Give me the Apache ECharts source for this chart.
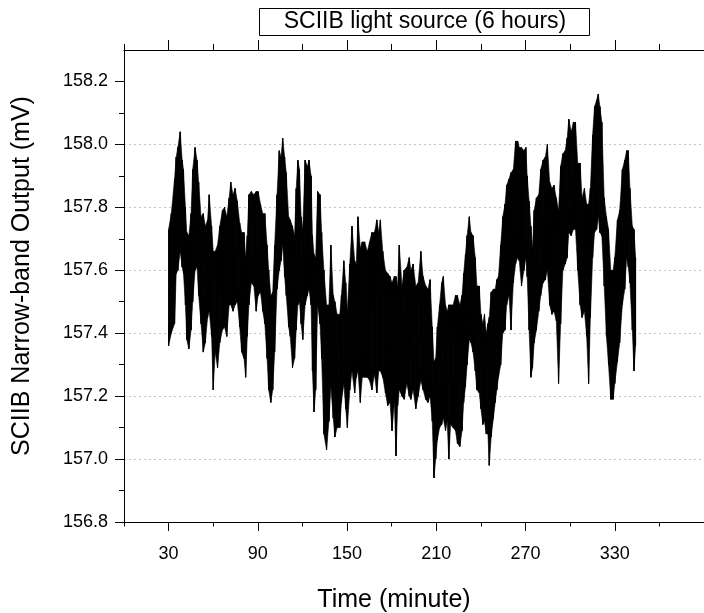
<!DOCTYPE html>
<html>
<head>
<meta charset="utf-8">
<script src="https://cdn.jsdelivr.net/npm/echarts@6/dist/echarts.min.js"></script>
<style>
  html, body { margin: 0; padding: 0; background: #fff; }
  #chart { width: 704px; height: 613px; }
</style>
</head>
<body>
<div id="chart"></div>
<script>
// time (minute) of each reading, with the top and bottom of the trace there (mV)
var minutes = [
  30.0, 31.8, 34.0, 35.1, 36.2, 37.8, 39.1, 40.0, 41.3, 42.2,
  43.6, 45.1, 46.2, 47.8, 49.1, 50.2, 51.8, 53.3, 54.7, 56.2,
  57.3, 58.9, 60.0, 61.3, 62.9, 64.4, 66.2, 67.6, 69.1, 70.7,
  71.8, 73.3, 74.7, 76.2, 77.8, 79.1, 80.7, 81.8, 82.9, 84.0,
  85.6, 87.3, 88.9, 90.2, 91.8, 93.3, 94.7, 96.2, 97.3, 98.7,
  100.0, 101.3, 102.9, 104.4, 105.6, 106.7, 108.0, 109.1, 110.7, 111.8,
  113.3, 114.7, 115.8, 116.9, 118.0, 119.1, 120.2, 121.8, 123.3, 124.4,
  125.8, 126.7, 127.8, 128.9, 130.2, 131.8, 132.9, 134.4, 136.2, 137.8,
  139.1, 140.7, 141.8, 143.3, 145.1, 146.2, 147.8, 149.1, 150.2, 151.8,
  153.3, 155.1, 156.2, 157.3, 158.9, 160.2, 161.8, 163.6, 165.1, 166.7,
  168.4, 170.0, 171.3, 172.4, 174.0, 175.8, 177.3, 178.9, 180.2, 181.8,
  182.9, 184.0, 185.1, 186.9,
  188.4, 190.2, 191.8, 192.9, 194.4, 196.2, 197.8, 199.6, 201.1, 202.9,
  204.4, 205.8, 207.3, 208.4, 209.6, 210.7, 212.2, 213.6, 214.7, 216.2,
  217.3, 218.4, 219.6, 221.3, 222.9, 224.2, 225.8, 227.3, 228.4, 229.6,
  230.7, 232.2, 233.3, 234.7, 236.2, 237.3, 238.9, 240.0, 241.3, 242.4,
  243.6, 244.7, 245.6, 246.9, 248.4, 249.6, 250.7, 251.8, 253.3, 254.7,
  256.2, 257.3, 258.9, 260.2, 261.8, 263.3, 264.7, 265.8, 267.3, 268.9,
  270.2, 271.1, 272.4, 273.6, 274.7, 275.8, 277.3, 278.9, 280.2, 281.8,
  283.3, 284.7, 286.2, 287.8, 289.1, 290.7, 292.2, 293.6, 295.1, 296.7,
  298.0, 299.1, 300.7, 302.2, 303.6, 305.1, 306.7, 308.0, 309.6, 311.1,
  312.4, 313.6, 315.1, 316.4, 317.8, 318.9, 320.0, 321.3, 322.9, 324.4,
  325.8, 327.3, 328.9, 330.0, 331.8, 333.3, 335.1, 336.7, 338.0, 339.1,
  340.2, 341.8, 342.9, 344.0
];
var upper = [
  157.73, 157.78, 157.89, 157.96, 157.99, 158.04, 157.95, 157.92, 157.80, 157.72,
  157.71, 157.78, 157.92, 157.99, 157.95, 157.88, 157.77, 157.78, 157.74, 157.76,
  157.84, 157.74, 157.66, 157.66, 157.68, 157.74, 157.79, 157.80, 157.77, 157.83,
  157.88, 157.84, 157.86, 157.82, 157.75, 157.72, 157.72, 157.64, 157.71, 157.84,
  157.85, 157.84, 157.85, 157.85, 157.81, 157.78, 157.78, 157.68, 157.60, 157.52,
  157.53, 157.68, 157.84, 157.98, 157.96, 158.02, 157.96, 157.91, 157.77, 157.76,
  157.74, 157.71, 157.86, 157.95, 157.92, 157.77, 157.73, 157.95, 157.93, 157.95,
  157.90, 157.71, 157.65, 157.64, 157.85, 157.84, 157.72, 157.60, 157.49, 157.49,
  157.68, 157.52, 157.50, 157.46, 157.46, 157.52, 157.63, 157.56, 157.47, 157.62,
  157.74, 157.63, 157.62, 157.77, 157.67, 157.69, 157.69, 157.66, 157.69, 157.72,
  157.72, 157.76, 157.72, 157.76, 157.66, 157.60, 157.59, 157.58, 157.56, 157.58,
  157.58, 157.55, 157.68, 157.55,
  157.60, 157.61, 157.64, 157.60, 157.62, 157.55, 157.56, 157.66, 157.58, 157.55,
  157.54, 157.57, 157.42, 157.31, 157.32, 157.42, 157.49, 157.56, 157.58, 157.49,
  157.47, 157.49, 157.49, 157.49, 157.52, 157.52, 157.49, 157.52, 157.59, 157.65,
  157.71, 157.77, 157.72, 157.71, 157.64, 157.55, 157.55, 157.46, 157.43, 157.46,
  157.40, 157.43, 157.45, 157.53, 157.54, 157.54, 157.57, 157.58, 157.68, 157.77,
  157.81, 157.87, 157.89, 157.91, 157.92, 158.01, 158.01, 157.99, 157.99, 157.98,
  157.99, 157.90, 157.82, 157.74, 157.67, 157.79, 157.83, 157.84, 157.92, 157.95,
  157.96, 158.00, 157.88, 157.86, 157.87, 157.83, 157.79, 157.93, 157.97, 157.98,
  158.02, 158.08, 158.04, 158.07, 158.07, 157.94, 157.94, 157.83, 157.86, 157.81,
  157.81, 157.86, 158.03, 158.12, 158.14, 158.16, 158.12, 158.07, 157.83, 157.77,
  157.73, 157.60, 157.60, 157.64, 157.76, 157.79, 157.92, 157.95, 157.98, 157.98,
  157.86, 157.74, 157.73, 157.64
];
var lower = [
  157.36, 157.40, 157.43, 157.59, 157.60, 157.66, 157.61, 157.59, 157.49, 157.38,
  157.35, 157.41, 157.50, 157.60, 157.61, 157.52, 157.43, 157.34, 157.37, 157.45,
  157.47, 157.39, 157.22, 157.34, 157.29, 157.37, 157.41, 157.42, 157.39, 157.49,
  157.49, 157.47, 157.49, 157.50, 157.42, 157.34, 157.32, 157.26, 157.39, 157.49,
  157.56, 157.55, 157.47, 157.52, 157.53, 157.47, 157.43, 157.32, 157.22, 157.18,
  157.22, 157.34, 157.54, 157.60, 157.63, 157.68, 157.58, 157.52, 157.42, 157.39,
  157.29, 157.32, 157.41, 157.49, 157.50, 157.43, 157.38, 157.49, 157.52, 157.54,
  157.49, 157.28, 157.15, 157.22, 157.49, 157.43, 157.32, 157.08, 157.03, 157.12,
  157.23, 157.13, 157.07, 157.10, 157.10, 157.18, 157.24, 157.16, 157.10, 157.22,
  157.28, 157.21, 157.26, 157.28, 157.18, 157.26, 157.26, 157.26, 157.25, 157.22,
  157.27, 157.21, 157.28, 157.28, 157.26, 157.21, 157.17, 157.18, 157.09, 157.18,
  157.01, 157.17, 157.22, 157.20,
  157.19, 157.24, 157.20, 157.19, 157.22, 157.16, 157.20, 157.25, 157.22, 157.19,
  157.18, 157.20, 157.12, 156.94, 157.00, 157.06, 157.10, 157.11, 157.13, 157.09,
  157.12, 157.00, 157.11, 157.10, 157.09, 157.05, 157.04, 157.09, 157.18, 157.23,
  157.30, 157.38, 157.37, 157.34, 157.28, 157.22, 157.21, 157.16, 157.11, 157.12,
  157.08, 157.08, 156.98, 157.07, 157.13, 157.18, 157.22, 157.26, 157.30, 157.40,
  157.41, 157.49, 157.52, 157.41, 157.56, 157.62, 157.64, 157.63, 157.55, 157.60,
  157.64, 157.58, 157.41, 157.26, 157.29, 157.37, 157.41, 157.47, 157.52, 157.56,
  157.57, 157.60, 157.49, 157.46, 157.47, 157.44, 157.24, 157.43, 157.60, 157.62,
  157.64, 157.72, 157.71, 157.73, 157.73, 157.60, 157.49, 157.45, 157.47, 157.39,
  157.24, 157.45, 157.64, 157.72, 157.73, 157.77, 157.72, 157.71, 157.55, 157.39,
  157.30, 157.19, 157.19, 157.24, 157.31, 157.37, 157.49, 157.54, 157.64, 157.61,
  157.56, 157.41, 157.28, 157.36
];

var xMajor = [30, 90, 150, 210, 270, 330];
var xMinor = [0, 60, 120, 180, 240, 300, 360];
var yMajor = [156.8, 157.0, 157.2, 157.4, 157.6, 157.8, 158.0, 158.2];
var yMinor = [156.9, 157.1, 157.3, 157.5, 157.7, 157.9, 158.1];

(function () {
  var myChart = echarts.init(document.getElementById("chart"));
  var font = "'Liberation Sans', Arial, sans-serif";

  // the signal swings fast: a stroke from top to bottom at every reading,
  // over a filled band between the two envelopes
  var trace = [];
  var band = [];
  for (var i = 0; i < minutes.length; i++) {
    trace.push([minutes[i], upper[i]]);
    trace.push([minutes[i], lower[i]]);
    band.push([minutes[i], upper[i], lower[i]]);
  }

  var black = { color: "#000", width: 1 };
  var plot = { left: 124, top: 50, right: -5, bottom: 91 };

  function xAxis(grid, pos, ticks, len, labels) {
    return {
      type: "value",
      gridIndex: grid,
      position: pos,
      min: 0,
      max: 390,
      interval: 30,
      axisLine: { show: grid === 0, lineStyle: black },
      axisTick: { customValues: ticks, length: len, lineStyle: black },
      axisLabel: {
        show: labels,
        customValues: xMajor,
        margin: 23,
        fontSize: 18,
        color: "#000",
        fontFamily: font,
      },
      splitLine: { show: false },
    };
  }

  myChart.setOption({
    animation: false,
    grid: [plot, plot],
    xAxis: [
      xAxis(0, "bottom", xMajor, 9, true),
      xAxis(0, "top", xMajor, 10, false),
      xAxis(1, "bottom", xMinor, 4.5, false),
      xAxis(1, "top", xMinor, 6, false),
    ],
    yAxis: [
      {
        type: "value",
        gridIndex: 0,
        min: 156.8,
        max: 158.3,
        interval: 0.2,
        axisLine: { show: true, lineStyle: black },
        axisTick: { customValues: yMajor, length: 9, lineStyle: black },
        axisLabel: {
          customValues: yMajor,
          formatter: function (v) {
            return v.toFixed(1);
          },
          margin: 16,
          fontSize: 18,
          color: "#000",
          fontFamily: font,
        },
        splitLine: {
          show: true,
          showMinLine: false,
          showMaxLine: false,
          lineStyle: { color: "#c4c4c4", width: 1, type: [2, 3] },
        },
      },
      {
        type: "value",
        gridIndex: 1,
        min: 156.8,
        max: 158.3,
        interval: 0.2,
        axisLine: { show: false },
        axisTick: { customValues: yMinor, length: 5, lineStyle: black },
        axisLabel: { show: false },
        splitLine: { show: false },
      },
    ],
    series: [
      {
        type: "custom",
        data: band,
        encode: { x: 0, y: [1, 2] },
        silent: true,
        z: 2,
        renderItem: function (params, api) {
          var k = params.dataIndex;
          if (k >= band.length - 1) return;
          var a = band[k];
          var b = band[k + 1];
          return {
            type: "polygon",
            shape: {
              points: [
                api.coord([a[0], a[1]]),
                api.coord([b[0], b[1]]),
                api.coord([b[0], b[2]]),
                api.coord([a[0], a[2]]),
              ],
            },
            style: { fill: "#000", stroke: "#000", lineWidth: 0.6 },
          };
        },
      },
      {
        type: "line",
        data: trace,
        symbol: "none",
        silent: true,
        lineStyle: { color: "#000", width: 1 },
        z: 3,
      },
    ],
    graphic: [
      {
        type: "rect",
        shape: { x: 259.5, y: 8.5, width: 330, height: 27 },
        style: { fill: "#fff", stroke: "#000", lineWidth: 1 },
      },
      {
        type: "text",
        x: 425,
        y: 22,
        style: {
          text: "SCIIB light source (6 hours)",
          fontSize: 23,
          fontFamily: font,
          fill: "#000",
          align: "center",
          verticalAlign: "middle",
        },
      },
      {
        type: "text",
        x: 22,
        y: 276,
        rotation: Math.PI / 2,
        style: {
          text: "SCIIB Narrow-band Output (mV)",
          fontSize: 25,
          fontFamily: font,
          fill: "#000",
          align: "center",
          verticalAlign: "middle",
        },
      },
      {
        type: "text",
        x: 394,
        y: 600,
        style: {
          text: "Time (minute)",
          fontSize: 25,
          fontFamily: font,
          fill: "#000",
          align: "center",
          verticalAlign: "middle",
        },
      },
    ],
  });

  window.addEventListener("resize", function () {
    myChart.resize();
  });
})();
</script>
</body>
</html>
